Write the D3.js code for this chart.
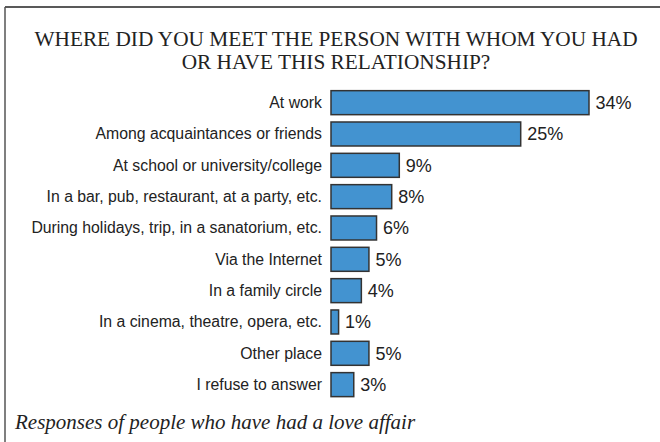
<!DOCTYPE html>
<html lang="en">
	<head>
		<meta charset="utf-8">
		<title>Where did you meet the person</title>
		<script type="text/javascript" src="https://d3js.org/d3.v7.min.js"></script>
		<style type="text/css">
			body { margin: 0; background: #fff; }
		</style>
	</head>
	<body>
		<script type="text/javascript">

			//Width and height
			var w = 660;
			var h = 442;

			//data
			var categories = [
				"At work",
				"Among acquaintances or friends",
				"At school or university/college",
				"In a bar, pub, restaurant, at a party, etc.",
				"During holidays, trip, in a sanatorium, etc.",
				"Via the Internet",
				"In a family circle",
				"In a cinema, theatre, opera, etc.",
				"Other place",
				"I refuse to answer"
			];
			var values = [34, 25, 9, 8, 6, 5, 4, 1, 5, 3];
			var titleLines = ["WHERE DID YOU MEET THE PERSON WITH WHOM YOU HAD", "OR HAVE THIS RELATIONSHIP?"];
			var footnote = "Responses of people who have had a love affair";

			//Create SVG element
			var svg = d3.select("body")
						.append("svg")
						.attr("width", w)
						.attr("height", h);

			//frame: top and left rules
			svg.append("line")
				.attr("x1", 5).attr("x2", w)
				.attr("y1", 7).attr("y2", 7)
				.attr("stroke", "#222").attr("stroke-width", 1.5);
			svg.append("line")
				.attr("x1", 5).attr("x2", 5)
				.attr("y1", 7).attr("y2", h)
				.attr("stroke", "#555").attr("stroke-width", 1.5);

			//title
			svg.selectAll("text.title")
				.data(titleLines)
				.enter()
				.append("text")
				.attr("class", "title")
				.attr("x", 336)
				.attr("y", function(d, i) { return 45.5 + i * 23.5; })
				.attr("text-anchor", "middle")
				.attr("font-family", "'Liberation Serif', 'Times New Roman', serif")
				.attr("font-size", 21.3)
				.attr("fill", "#222")
				.text(function(d) { return d; });

			//scales
			var x = d3.scaleLinear()
						.domain([0, 34])
						.range([331, 589]);

			var y = d3.scaleBand()
						.domain(categories)
						.range([87, 400.3])
						.paddingInner(0.234)
						.paddingOuter(0.117);

			var rows = categories.map(function(c, i) { return { cat: c, val: values[i] }; });

			//bars
			svg.selectAll("rect.bar")
				.data(rows)
				.enter()
				.append("rect")
				.attr("class", "bar")
				.attr("x", x(0))
				.attr("y", function(d) { return y(d.cat); })
				.attr("width", function(d) { return x(d.val) - x(0); })
				.attr("height", y.bandwidth())
				.attr("fill", "#4393d0")
				.attr("stroke", "#333")
				.attr("stroke-width", 1.5);

			//category labels
			svg.selectAll("text.cat")
				.data(rows)
				.enter()
				.append("text")
				.attr("class", "cat")
				.attr("x", 322)
				.attr("y", function(d) { return y(d.cat) + y.bandwidth() / 2 + 5.3; })
				.attr("text-anchor", "end")
				.attr("font-family", "'Liberation Sans', Arial, sans-serif")
				.attr("font-size", 15.8)
				.attr("fill", "#222")
				.text(function(d) { return d.cat; });

			//value labels
			svg.selectAll("text.val")
				.data(rows)
				.enter()
				.append("text")
				.attr("class", "val")
				.attr("x", function(d) { return x(d.val) + 6.5; })
				.attr("y", function(d) { return y(d.cat) + y.bandwidth() / 2 + 6.5; })
				.attr("font-family", "'Liberation Sans', Arial, sans-serif")
				.attr("font-size", 18)
				.attr("fill", "#222")
				.text(function(d) { return d.val + "%"; });

			//footnote
			svg.append("text")
				.attr("x", 15)
				.attr("y", 429)
				.attr("font-family", "'Liberation Serif', 'Times New Roman', serif")
				.attr("font-style", "italic")
				.attr("font-size", 21)
				.attr("fill", "#222")
				.text(footnote);

		</script>
	</body>
</html>
